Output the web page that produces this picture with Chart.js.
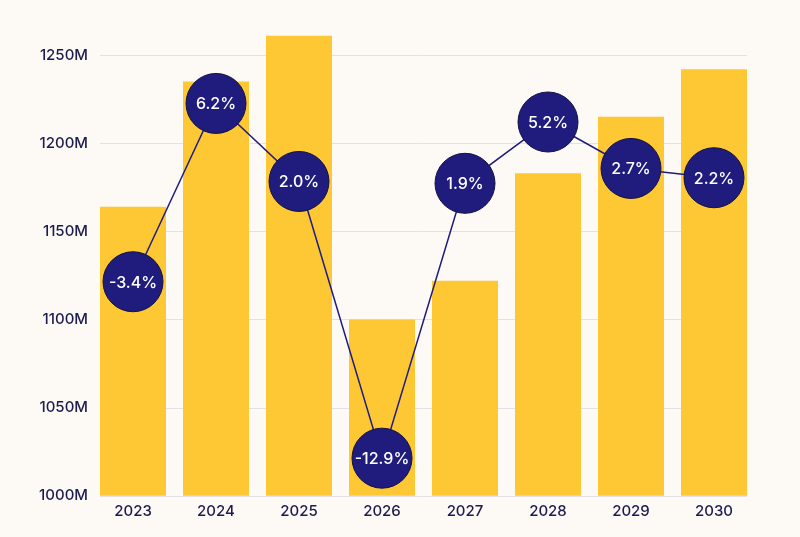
<!DOCTYPE html>
<html>
<head>
<meta charset="utf-8">
<script src="https://cdn.jsdelivr.net/npm/chart.js@4/dist/chart.umd.min.js"></script>
<style>
  html, body { margin: 0; padding: 0; background: #fdfaf6; }
  #wrap { width: 800px; height: 537px; }
</style>
</head>
<body>
<div id="wrap"><canvas id="c"></canvas></div>
<script>
const years = ['2023','2024','2025','2026','2027','2028','2029','2030']
const market = [1164, 1235, 1261, 1100, 1122, 1183, 1215, 1242]
const growth = [-3.4, 6.2, 2.0, -12.9, 1.9, 5.2, 2.7, 2.2]
const yTicks = [1000, 1050, 1100, 1150, 1200, 1250]

const navy = '#1f1c7d', ink = '#1c1b4d', gold = '#fec834'
const font = "Inter, 'Open Sans', sans-serif"

// horizontal grid only under the bars, from first bar edge to last bar edge
const gridUnderBars = {
    id: 'gridUnderBars',
    beforeDatasetsDraw(chart) {
        const meta = chart.getDatasetMeta(1)
        const first = meta.data[0], last = meta.data[meta.data.length-1]
        const x0 = first.x - first.width/2, x1 = last.x + last.width/2
        const ctx = chart.ctx, y = chart.scales.y
        ctx.save()
        ctx.strokeStyle = '#e3e1e8'
        ctx.lineWidth = 1
        yTicks.forEach(t => {
            const py = Math.round(y.getPixelForValue(t)) + 0.5
            ctx.beginPath(); ctx.moveTo(x0, py); ctx.lineTo(x1, py); ctx.stroke()
        })
        ctx.restore()
    }
}

const circleLabels = {
    id: 'circleLabels',
    afterDatasetsDraw(chart) {
        const ctx = chart.ctx
        ctx.save()
        ctx.fillStyle = '#ffffff'
        ctx.font = '500 16px ' + font
        ctx.textAlign = 'center'
        ctx.textBaseline = 'middle'
        chart.getDatasetMeta(0).data.forEach((p, i) => {
            ctx.fillText(growth[i].toFixed(1) + '%', p.x, p.y + 1)
        })
        ctx.restore()
    }
}

new Chart(document.getElementById('c'), {
    data: {
        labels: years,
        datasets: [{
            type: 'line',
            data: growth,
            yAxisID: 'y1',
            order: 0,
            borderColor: navy,
            borderWidth: 1.5,
            pointRadius: 30,
            pointHoverRadius: 30,
            pointBackgroundColor: navy,
            pointBorderColor: '#14123f',
            pointBorderWidth: 1,
            clip: false
        }, {
            type: 'bar',
            data: market,
            yAxisID: 'y',
            order: 1,
            backgroundColor: gold,
            barPercentage: 0.795,
            categoryPercentage: 1
        }]
    },
    options: {
        responsive: true,
        maintainAspectRatio: false,
        animation: false,
        layout: { padding: { top: 8.4, right: 44.5, bottom: 0, left: 0 } },
        plugins: { legend: { display: false }, tooltip: { enabled: false } },
        scales: {
            x: {
                grid: { display: false, drawTicks: false },
                border: { display: false },
                ticks: { color: ink, font: { family: font, size: 15, weight: '500' }, padding: 7 },
                afterFit: s => { s.height = 41.3 }
            },
            y: {
                min: 1000, max: 1263.7,
                grid: { display: false, drawTicks: false },
                border: { display: false },
                afterBuildTicks: s => { s.ticks = yTicks.map(v => ({ value: v })) },
                afterFit: s => { s.width = 91.5 },
                ticks: {
                    color: ink, padding: 3.5,
                    font: { family: font, size: 15, weight: '500' },
                    callback: v => v + 'M'
                }
            },
            y1: {
                display: false,
                min: -14.92, max: 10.1
            }
        }
    },
    plugins: [gridUnderBars, circleLabels]
})
</script>
</body>
</html>
